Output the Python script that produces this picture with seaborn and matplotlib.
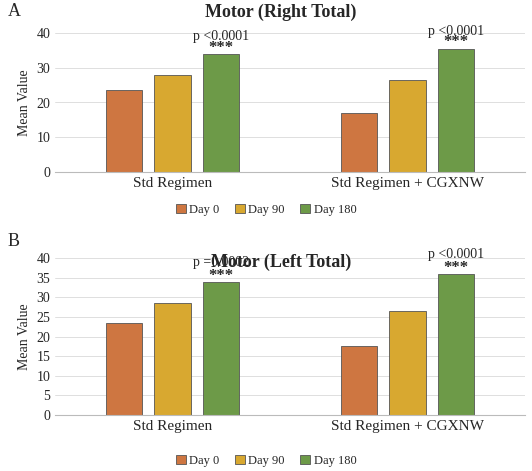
import numpy as np
import pandas as pd
import seaborn as sns
import matplotlib.pyplot as plt

sns.set_style("white")
plt.rcParams['font.family'] = ['Liberation Serif', 'DejaVu Serif']

groups = ['Std Regimen', 'Std Regimen + CGXNW']
days = ['Day 0', 'Day 90', 'Day 180']
right_vals = [[23.5, 28, 34], [17, 26.5, 35.5]]
left_vals = [[23.5, 28.5, 34], [17.5, 26.5, 36]]
right_p = ['p <0.0001', 'p <0.0001']
left_p = ['p =0.0002', 'p <0.0001']
colors = ['#E5702A', '#F4B414', '#6CA83A']

W, H = 532, 471
fig = plt.figure(figsize=(5.32, 4.71), dpi=100)
ax_a = fig.add_axes([55 / W, 1 - 172 / H, 470 / W, 139 / H])
ax_b = fig.add_axes([55 / W, 1 - 415 / H, 470 / W, 157 / H])


def panel(ax, vals, title, pvals, step, letter, title_y, letter_y, legend_y):
    df = pd.DataFrame([(g, d, vals[i][j]) for i, g in enumerate(groups)
                       for j, d in enumerate(days)], columns=['group', 'day', 'value'])
    sns.barplot(data=df, x='group', y='value', hue='day', palette=colors,
                ax=ax, width=0.62, gap=0.25, edgecolor='#555555', linewidth=0.6)
    ax.set_ylim(0, 40)
    ax.set_yticks(np.arange(0, 41, step))
    ax.set_xlabel('')
    ax.set_ylabel('Mean Value', fontsize=10)
    ax.yaxis.grid(True, color='#d9d9d9', linewidth=0.6)
    ax.set_axisbelow(True)
    for s in ['top', 'right', 'left']:
        ax.spines[s].set_visible(False)
    ax.spines['bottom'].set_color('#bbbbbb')
    ax.tick_params(axis='x', labelsize=11, length=0)
    ax.tick_params(axis='y', labelsize=10, length=0)
    bars = ax.containers[2]
    for b, p in zip(bars, pvals):
        x = b.get_x() + b.get_width() / 2
        h = b.get_height()
        ax.text(x, h - 0.5, '***', ha='center', va='bottom', fontsize=12,
                fontweight='bold', clip_on=False)
        ax.text(x, h + 3.2, p, ha='center', va='bottom', fontsize=10, clip_on=False)
    ax.legend(loc='center', bbox_to_anchor=(0.5, 1 - legend_y / H), bbox_transform=fig.transFigure,
              ncol=3, frameon=False, fontsize=9, handlelength=0.8, handletextpad=0.3,
              columnspacing=1.2)
    fig.text(0.5 + 15 / W, 1 - title_y / H, title, ha='center', va='center',
             fontsize=13, fontweight='bold')
    fig.text(8 / W, 1 - letter_y / H, letter, ha='left', va='center', fontsize=13)


panel(ax_a, right_vals, 'Motor (Right Total)', right_p, 10, 'A', 12, 12, 210)
panel(ax_b, left_vals, 'Motor (Left Total)', left_p, 5, 'B', 262, 242, 461)

plt.savefig('out.png')
